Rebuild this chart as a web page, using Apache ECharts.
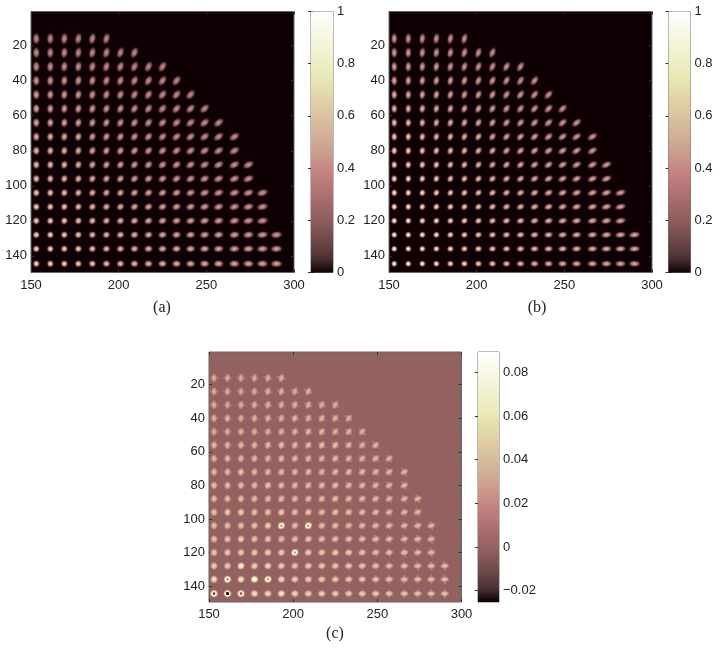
<!DOCTYPE html>
<html>
<head>
<meta charset="utf-8">
<style>
  html, body { margin: 0; padding: 0; background: #fff; }
  #chart { width: 720px; height: 654px; }
</style>
<script src="https://cdn.jsdelivr.net/npm/echarts@6/dist/echarts.min.js"></script>
</head>
<body>
<div id="chart"></div>
<script>
// ---- data ----
const xTicks = [150, 200, 250, 300]
const yTicks = [20, 40, 60, 80, 100, 120, 140]
const barTicks = [0, 0.2, 0.4, 0.6, 0.8, 1]
const barTicksC = [-0.02, 0, 0.02, 0.04, 0.06, 0.08]

// spot grid, data units
const colX = [153, 161, 169, 177, 185, 193, 201, 209, 217, 225, 233, 241, 249, 257, 266, 274, 282, 290]
const rowY = [16, 24, 32, 40, 48, 56, 64, 72, 80, 88, 96, 104, 112, 120, 128, 136, 144.5]

// peak value of each spot, one list per row
const peakA = [
  [.40, .41, .41, .40, .40, .40],
  [.42, .42, .42, .41, .41, .41, .40, .40],
  [.44, .44, .43, .43, .42, .42, .41, .41, .40, .40],
  [.47, .46, .46, .45, .44, .43, .42, .42, .41, .41, .40],
  [.50, .49, .48, .47, .46, .45, .44, .43, .42, .42, .41, .40],
  [.53, .52, .50, .49, .48, .46, .45, .44, .43, .42, .42, .41, .41],
  [.56, .55, .53, .51, .49, .48, .46, .45, .44, .44, .43, .42, .42, .41],
  [.60, .58, .56, .54, .51, .50, .48, .46, .45, .44, .44, .43, .42, .42, .41],
  [.63, .61, .58, .56, .53, .51, .49, .48, .46, .45, .45, .44, .44, .43, .42],
  [.66, .64, .61, .58, .55, .53, .51, .49, .48, .47, .46, .45, .45, .44, .44, .43],
  [.69, .66, .63, .60, .57, .55, .53, .51, .49, .48, .47, .47, .46, .45, .45, .44],
  [.71, .69, .66, .62, .60, .57, .55, .53, .51, .50, .49, .48, .47, .46, .46, .45, .44],
  [.73, .71, .68, .65, .62, .59, .57, .55, .53, .52, .50, .49, .48, .48, .47, .46, .45],
  [.75, .73, .70, .67, .64, .61, .59, .57, .55, .53, .52, .51, .50, .49, .48, .47, .46],
  [.77, .75, .72, .69, .66, .63, .61, .59, .57, .55, .54, .53, .52, .51, .50, .49, .48, .47],
  [.78, .76, .73, .70, .67, .65, .62, .60, .58, .57, .56, .55, .54, .53, .52, .51, .50, .49],
  [.80, .78, .75, .72, .69, .66, .64, .62, .60, .58, .57, .56, .55, .54, .53, .52, .51, .50]
]
const peakB = [
  [.46, .46, .46, .45, .45, .44],
  [.48, .48, .47, .47, .46, .46, .45, .44],
  [.51, .50, .49, .49, .48, .47, .46, .45, .45, .44],
  [.54, .53, .52, .51, .50, .49, .48, .47, .46, .45, .45],
  [.58, .57, .55, .54, .52, .51, .50, .48, .47, .47, .46, .45],
  [.62, .60, .58, .57, .55, .53, .52, .50, .49, .48, .47, .46, .46],
  [.66, .64, .62, .60, .58, .56, .54, .52, .51, .50, .49, .48, .47, .46],
  [.70, .68, .66, .63, .60, .58, .56, .54, .53, .52, .51, .49, .48, .47, .46],
  [.74, .72, .69, .66, .63, .60, .58, .56, .54, .53, .52, .51, .50, .49, .48],
  [.78, .75, .72, .69, .66, .63, .60, .58, .56, .55, .53, .52, .51, .50, .49, .48],
  [.81, .78, .75, .72, .68, .65, .63, .60, .58, .57, .55, .54, .53, .52, .51, .50],
  [.84, .81, .78, .74, .71, .68, .65, .63, .60, .59, .57, .56, .55, .54, .53, .52, .50],
  [.87, .84, .80, .77, .73, .70, .67, .65, .62, .60, .59, .58, .56, .55, .54, .53, .52],
  [.89, .86, .83, .79, .75, .72, .69, .67, .64, .62, .60, .59, .58, .57, .56, .55, .53],
  [.91, .88, .85, .81, .77, .74, .71, .68, .66, .64, .62, .61, .59, .58, .57, .56, .55, .54],
  [.93, .90, .86, .82, .78, .75, .72, .69, .67, .65, .63, .62, .61, .59, .58, .57, .56, .55],
  [.95, .92, .88, .84, .80, .76, .72, .68, .65, .62, .60, .58, .57, .56, .55, .54, .53, .52]
]
const peakC = [
  [.036, .035, .035, .036, .035, .037],
  [.036, .035, .034, .035, .036, .037, .036, .037],
  [.036, .034, .035, .036, .038, .036, .037, .037, .038, .037],
  [.038, .040, .035, .037, .039, .038, .040, .039, .041, .039, .038],
  [.036, .036, .037, .036, .036, .038, .038, .039, .040, .037, .038, .037],
  [.042, .040, .040, .040, .042, .044, .042, .042, .045, .046, .040, .039, .040],
  [.040, .040, .040, .040, .039, .042, .042, .041, .041, .042, .040, .040, .041, .040],
  [.042, .042, .046, .040, .041, .042, .040, .042, .040, .041, .042, .042, .041, .040, .040],
  [.044, .044, .044, .042, .046, .042, .042, .042, .044, .044, .042, .042, .041, .040, .041],
  [.044, .042, .044, .042, .042, .044, .042, .042, .042, .044, .042, .042, .042, .040, .040, .040],
  [.044, .050, .050, .044, .046, .050, .044, .046, .044, .046, .044, .042, .042, .041, .041, .041],
  [.044, .044, .046, .046, .052, .092, .044, .092, .044, .044, .042, .042, .042, .042, .041, .041, .041],
  [.046, .046, .052, .046, .048, .044, .044, .048, .044, .044, .044, .044, .044, .042, .042, .042, .041],
  [.048, .048, .050, .050, .052, .052, .092, .050, .048, .050, .050, .046, .044, .044, .044, .042, .042],
  [.050, .048, .070, .054, .056, .052, .048, .050, .050, .048, .050, .048, .046, .044, .044, .044, .044, .044],
  [.062, .095, .060, .085, .092, .056, .052, .050, .050, .050, .048, .048, .046, .046, .044, .044, .044, .044],
  [.100, .112, .098, .060, .056, .066, .056, .052, .052, .050, .050, .050, .050, .048, .046, .046, .046, .046]
]

// pink colormap, position on 0..1 and colour
const cmapPos = [0, 0.05, 0.1, 0.2, 0.375, 0.5, 0.75, 1]
const cmapColors = ['#0e0003', '#472e2e', '#644242', '#8e5d5d', '#c38080', '#d0aa93', '#e9e9b4', '#ffffff']
// centres of the spots that clip at the top of the scale
const overflowLow = '#c8a080'
const overflowHigh = '#1a0c0c'

// ---- layout ----
const panels = [
  { id: 'a', peaks: peakA, left: 31, top: 11.5, width: 263, height: 261, barLeft: 311, barWidth: 22, min: 0, max: 1, ticks: barTicks, rMinor: 4.2, rRound: 4.1, reach: 3, fallA: 3.2, fallB: 2, cross: 0 },
  { id: 'b', peaks: peakB, left: 389, top: 11.5, width: 263, height: 261, barLeft: 668.5, barWidth: 22, min: 0, max: 1, ticks: barTicks, rMinor: 3.8, rRound: 3.7, reach: 3.2, fallA: 3.2, fallB: 2, cross: 0 },
  { id: 'c', peaks: peakC, left: 209, top: 352, width: 252.5, height: 250, barLeft: 478, barWidth: 21, min: -0.0252, max: 0.0893, ticks: barTicksC, rMinor: 4.4, rRound: 4.6, reach: 0.8, fallA: 3, fallB: 3, cross: 1 }
]

function hexToRgb(hex) {
  return [1, 3, 5].map(i => parseInt(hex.slice(i, i + 2), 16))
}

function cmapRgb(t) {
  if (t > 1) {
    const f = Math.min(1, (t - 1) / 0.15)
    const lo = hexToRgb(overflowLow)
    const hi = hexToRgb(overflowHigh)
    return lo.map((v, k) => Math.round(v + (hi[k] - v) * f))
  }
  if (t <= 0) return hexToRgb(cmapColors[0])
  let i = 1
  while (cmapPos[i] < t) i++
  const f = (t - cmapPos[i - 1]) / (cmapPos[i] - cmapPos[i - 1])
  const a = hexToRgb(cmapColors[i - 1])
  const b = hexToRgb(cmapColors[i])
  return a.map((v, k) => Math.round(v + (b[k] - v) * f))
}

function cmap(t) {
  const c = cmapRgb(t)
  return `rgb(${c[0]},${c[1]},${c[2]})`
}

// fall-off of one spot, from peak at the centre to clear at the rim
function spotFill(peak, p) {
  const stops = []
  const n = 14
  for (let i = 0; i <= n; i++) {
    const s = i / n
    const fall = Math.exp(-p.fallA * Math.pow(s, p.fallB))
    const c = cmapRgb((peak * fall - p.min) / (p.max - p.min))
    const alpha = i === n ? 0 : Math.min(1, fall * 3)
    stops.push({ offset: s, color: `rgba(${c[0]},${c[1]},${c[2]},${alpha.toFixed(2)})` })
  }
  return new echarts.graphic.RadialGradient(0.5, 0.5, 0.5, stops)
}

function spotData(peaks) {
  const out = []
  peaks.forEach((row, r) => {
    row.forEach((peak, c) => out.push([colX[c], rowY[r], peak]))
  })
  return out
}

const grids = []
const xAxes = []
const yAxes = []
const series = []
const labelStyle = { color: '#222', fontFamily: 'Liberation Sans', fontSize: 13 }
const tickLine = { color: '#333', width: 1 }

panels.forEach(p => {
  const g = grids.length
  grids.push({
    left: p.left, top: p.top, width: p.width, height: p.height,
    show: true, borderColor: '#666', borderWidth: 1,
    backgroundColor: cmap((0 - p.min) / (p.max - p.min))
  })
  const xCommon = { gridIndex: g, type: 'value', min: 150, max: 300, splitLine: { show: false }, axisLine: { show: false } }
  xAxes.push({
    ...xCommon, position: 'bottom',
    axisTick: { inside: true, length: 3, lineStyle: tickLine, customValues: xTicks },
    axisLabel: { ...labelStyle, margin: 6, customValues: xTicks, hideOverlap: false }
  })
  xAxes.push({
    ...xCommon, position: 'top',
    axisTick: { inside: true, length: 3, lineStyle: tickLine, customValues: xTicks },
    axisLabel: { show: false }
  })
  const yCommon = { gridIndex: g, type: 'value', inverse: true, min: 0.5, max: 149.5, splitLine: { show: false }, axisLine: { show: false } }
  yAxes.push({
    ...yCommon, position: 'left',
    axisTick: { inside: true, length: 3, lineStyle: tickLine, customValues: yTicks },
    axisLabel: { ...labelStyle, margin: 4, padding: [2, 0, 0, 0], customValues: yTicks, hideOverlap: false }
  })
  yAxes.push({
    ...yCommon, position: 'right',
    axisTick: { inside: true, length: 3, lineStyle: tickLine, customValues: yTicks },
    axisLabel: { show: false }
  })
  series.push({
    type: 'custom',
    coordinateSystem: 'cartesian2d',
    xAxisIndex: xAxes.length - 2,
    yAxisIndex: yAxes.length - 2,
    silent: true,
    animation: false,
    encode: { x: 0, y: 1 },
    data: spotData(p.peaks),
    renderItem(params, api) {
      const x = api.value(0)
      const y = api.value(1)
      const pos = api.coord([x, y])
      const peak = api.value(2)
      // spots stretch away from the lower left corner
      const dx = x - colX[0]
      const dy = rowY[rowY.length - 1] - y
      const dist = Math.sqrt(dx * dx + dy * dy)
      const stretch = Math.pow(Math.min(1, dist / 135), 1.4)
      const children = []
      if (p.cross) {
        // panel c: a fainter bar across the spot makes the star shape
        children.push({
          type: 'circle',
          rotation: Math.PI / 2,
          scaleX: p.rRound + 1.4 * stretch,
          scaleY: 2.2,
          shape: { cx: 0, cy: 0, r: 1 },
          style: { fill: spotFill(Math.min(peak, 0.08) * 0.8, p) }
        })
      }
      children.push({
        type: 'circle',
        scaleX: p.rRound + p.reach * stretch,
        scaleY: p.rMinor - (p.cross ? 1 : 0) * stretch,
        shape: { cx: 0, cy: 0, r: 1 },
        style: { fill: spotFill(peak, p) }
      })
      return {
        type: 'group',
        x: pos[0],
        y: pos[1],
        rotation: Math.atan2(dy, dx),
        children
      }
    }
  })

  // colour bar
  const gb = grids.length
  grids.push({
    left: p.barLeft, top: p.top, width: p.barWidth, height: p.height,
    show: true, borderColor: '#777', borderWidth: 1
  })
  xAxes.push({ gridIndex: gb, type: 'value', min: 0, max: 1, show: false })
  const bCommon = { gridIndex: gb, type: 'value', min: p.min, max: p.max, splitLine: { show: false }, axisLine: { show: false } }
  yAxes.push({
    ...bCommon, position: 'right',
    axisTick: { inside: true, length: 3, lineStyle: tickLine, customValues: p.ticks },
    axisLabel: {
      ...labelStyle, margin: 4, padding: [2, 0, 0, 0], customValues: p.ticks, hideOverlap: false,
      formatter: v => (v < 0 ? '\u2212' + Math.abs(v) : String(v))
    }
  })
  yAxes.push({
    ...bCommon, position: 'left',
    axisTick: { inside: true, length: 3, lineStyle: tickLine, customValues: p.ticks },
    axisLabel: { show: false }
  })
  series.push({
    type: 'custom',
    coordinateSystem: 'cartesian2d',
    xAxisIndex: xAxes.length - 1,
    yAxisIndex: yAxes.length - 2,
    silent: true,
    animation: false,
    data: [[0, p.min, 1, p.max]],
    encode: { x: [0, 2], y: [1, 3] },
    renderItem(params, api) {
      const a = api.coord([api.value(0), api.value(3)])
      const b = api.coord([api.value(2), api.value(1)])
      return {
        type: 'rect',
        shape: { x: a[0], y: a[1], width: b[0] - a[0], height: b[1] - a[1] },
        style: {
          fill: new echarts.graphic.LinearGradient(0, 1, 0, 0,
            cmapPos.map((o, i) => ({ offset: o, color: cmapColors[i] })))
        }
      }
    }
  })
})

const captionFont = '16px "Liberation Serif"'
const chart = echarts.init(document.getElementById('chart'), null, { renderer: 'canvas' })
chart.setOption({
  animation: false,
  backgroundColor: '#fff',
  grid: grids,
  xAxis: xAxes,
  yAxis: yAxes,
  series,
  graphic: [
    { type: 'text', x: 162, y: 300, style: { text: '(a)', font: captionFont, fill: '#222', textAlign: 'center' } },
    { type: 'text', x: 537, y: 300, style: { text: '(b)', font: captionFont, fill: '#222', textAlign: 'center' } },
    { type: 'text', x: 335, y: 626, style: { text: '(c)', font: captionFont, fill: '#222', textAlign: 'center' } }
  ]
})
</script>
</body>
</html>
